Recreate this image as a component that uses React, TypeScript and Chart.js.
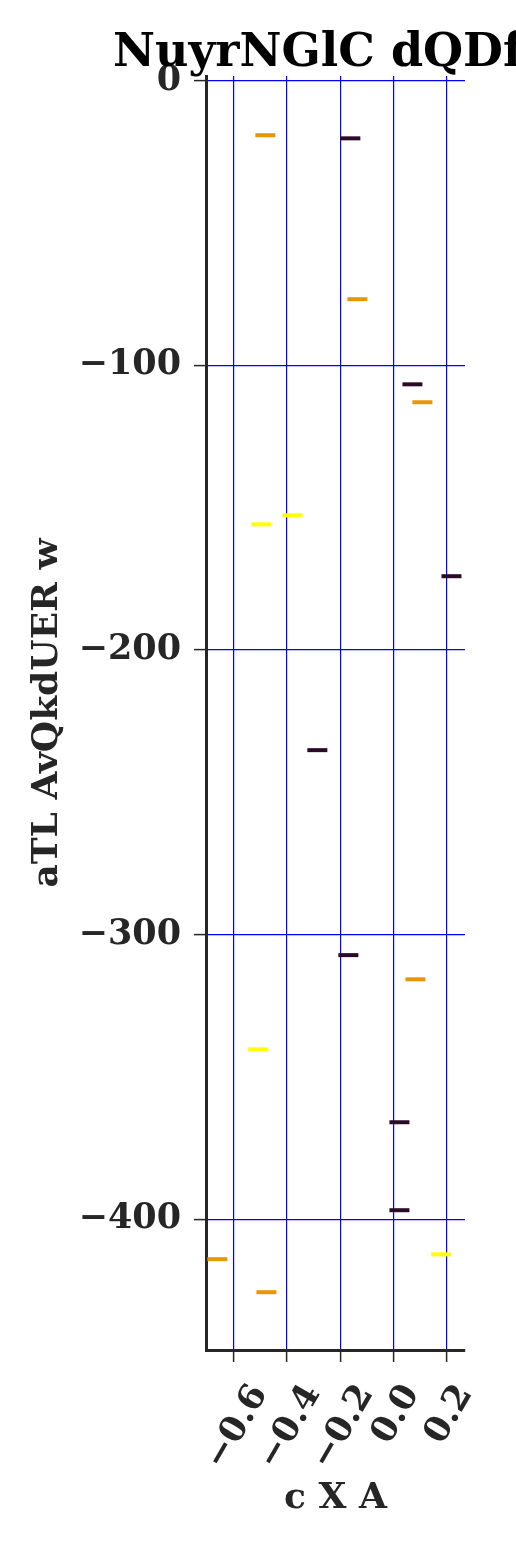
import { useEffect, useRef } from 'react';
import { Chart, registerables } from 'chart.js';

Chart.register(...registerables);

const titleText = 'NuyrNGlC dQDf';
const xAxisLabel = 'c X A';
const yAxisLabel = 'aTL AvQkdUER w';

const xTicks = [-0.6, -0.4, -0.2, 0.0, 0.2];
const yTicks = [-400, -300, -200, -100, 0];
const xMin = -0.7057;
const xMax = 0.2706;
const yMin = -445.9;
const yMax = 1.6;

const darkX = [-0.1615, 0.0725, 0.2196, -0.286, -0.169, 0.0234, 0.0234];
const darkY = [-20.3, -106.7, -174.1, -235.2, -307.2, -365.9, -396.8];
const orangeX = [-0.482, -0.135, 0.11, 0.0838, -0.663, -0.478];
const orangeY = [-19.2, -76.8, -113.0, -315.7, -414.0, -425.6];
const yellowX = [-0.38, -0.497, -0.509, 0.181];
const yellowY = [-152.7, -155.9, -340.3, -412.3];

const FONT = '"DejaVu Serif", serif';
const TICK_SIZE = 35;
const TITLE_SIZE = 46;
const LABEL_SIZE = 36;
const INK = '#262626';

const fmt = (v: number, digits: number) => v.toFixed(digits).replace('-', '\u2212');

const toPoints = (xs: number[], ys: number[]) => xs.map((x, i) => ({ x, y: ys[i] }));

const mkDataset = (xs: number[], ys: number[], color: string) => ({
  data: toPoints(xs, ys),
  showLine: false,
  pointStyle: 'line' as const,
  pointRadius: 10,
  pointBorderWidth: 4,
  pointBorderColor: color,
  pointBackgroundColor: color,
  borderColor: color,
  backgroundColor: color,
});

const overlayPlugin = {
  id: 'overlay',
  afterDraw(chart: any) {
    const ctx = chart.ctx as CanvasRenderingContext2D;
    const xs = chart.scales.x;
    ctx.save();
    // title
    ctx.font = `bold ${TITLE_SIZE}px ${FONT}`;
    ctx.fillStyle = '#000000';
    ctx.textAlign = 'left';
    ctx.textBaseline = 'alphabetic';
    ctx.fillText(titleText, 113, 66);

    // rotated x tick labels, bounding box centered on tick
    ctx.font = `bold ${TICK_SIZE}px ${FONT}`;
    ctx.fillStyle = INK;
    const ang = (60 * Math.PI) / 180;
    const capH = TICK_SIZE * 0.73;
    const topY = 1380;
    for (const v of xTicks) {
      const label = fmt(v, 1);
      const w = ctx.measureText(label).width;
      const bh = w * Math.sin(ang) + capH * Math.cos(ang);
      const cx = xs.getPixelForValue(v);
      const cy = topY + bh / 2;
      ctx.save();
      ctx.translate(cx, cy);
      ctx.rotate(-ang);
      ctx.textAlign = 'center';
      ctx.textBaseline = 'alphabetic';
      ctx.fillText(label, 0, capH / 2);
      ctx.restore();
    }
    ctx.restore();
  },
};

export default function App() {
  const ref = useRef<HTMLCanvasElement | null>(null);
  useEffect(() => {
    if (!ref.current) return;
    const chart = new Chart(ref.current, {
      type: 'scatter',
      data: {
        datasets: [
          mkDataset(darkX, darkY, '#2a0a26'),
          mkDataset(orangeX, orangeY, '#ea9508'),
          mkDataset(yellowX, yellowY, '#ffff00'),
        ],
      },
      options: {
        animation: false,
        responsive: false,
        events: [],
        layout: { padding: { left: 0, right: 51, top: 76, bottom: 0 } },
        plugins: {
          legend: { display: false },
          tooltip: { enabled: false },
          title: { display: false },
        },
        scales: {
          x: {
            type: 'linear',
            min: xMin,
            max: xMax,
            afterBuildTicks: (s: any) => {
              s.ticks = xTicks.map((v) => ({ value: v }));
            },
            afterFit: (s: any) => {
              s.height = 198;
            },
            grid: {
              color: '#0000ff',
              lineWidth: 1.2,
              tickLength: 12,
              tickColor: INK,
              tickWidth: 1.5,
            },
            border: { display: true, color: INK, width: 3 },
            ticks: { display: false },
            title: {
              display: true,
              text: xAxisLabel,
              color: INK,
              font: { family: FONT, size: LABEL_SIZE, weight: 'bold' },
              padding: { top: 0, bottom: 28 },
            },
          },
          y: {
            type: 'linear',
            min: yMin,
            max: yMax,
            afterBuildTicks: (s: any) => {
              s.ticks = yTicks.map((v) => ({ value: v }));
            },
            afterFit: (s: any) => {
              s.width = 206;
            },
            grid: {
              color: '#0000ff',
              lineWidth: 1.2,
              tickLength: 12,
              tickColor: INK,
              tickWidth: 1.5,
            },
            border: { display: true, color: INK, width: 3 },
            ticks: {
              color: INK,
              padding: 13,
              font: { family: FONT, size: TICK_SIZE, weight: 'bold' },
              callback: (v: any) => fmt(Number(v), 0),
            },
            title: {
              display: true,
              text: yAxisLabel,
              color: INK,
              font: { family: FONT, size: LABEL_SIZE, weight: 'bold' },
              padding: { top: 26, bottom: 0 },
            },
          },
        },
      },
      plugins: [overlayPlugin],
    } as any);
    return () => chart.destroy();
  }, []);
  return (
    <div style={{ position: 'fixed', left: 0, top: 0, width: 516, height: 1548 }}>
      <canvas ref={ref} width={516} height={1548} style={{ display: 'block', width: 516, height: 1548 }} />
    </div>
  );
}
